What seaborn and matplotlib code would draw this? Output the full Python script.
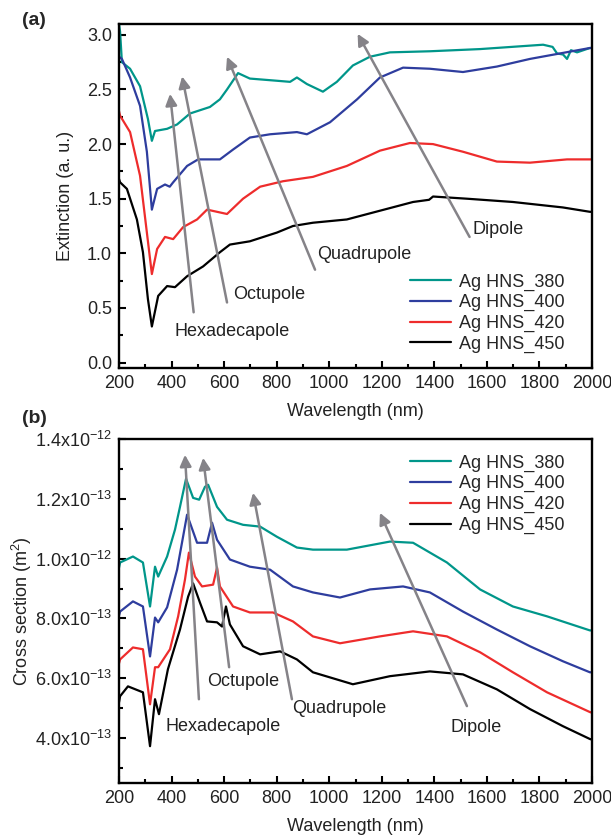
import numpy as np
import pandas as pd
import seaborn as sns
import matplotlib.pyplot as plt
from matplotlib.ticker import MultipleLocator, FixedLocator, FixedFormatter

# --- panel (a): extinction ---
SERIES = ['Ag HNS_380', 'Ag HNS_400', 'Ag HNS_420', 'Ag HNS_450']
COLORES = ['#00968a', '#2e3d9e', '#ee2c2c', '#000000']

a380_x = [200, 204, 211, 242, 280, 310, 325, 337, 383, 421, 470, 546, 584, 611, 653, 698, 801,
          851, 877, 915, 976, 1029, 1090, 1155, 1231, 1383, 1574, 1814, 1850, 1867, 1890, 1905,
          1920, 1943, 1992, 2000]
a380_y = [3.10, 3.03, 2.75, 2.69, 2.53, 2.23, 2.03, 2.12, 2.14, 2.18, 2.28, 2.34, 2.41, 2.50, 2.65,
          2.60, 2.58, 2.57, 2.61, 2.55, 2.48, 2.57, 2.72, 2.80, 2.84, 2.85, 2.87, 2.91, 2.89, 2.83,
          2.82, 2.78, 2.86, 2.84, 2.88, 2.88]
a400_x = [200, 211, 242, 280, 306, 325, 345, 375, 393, 406, 459, 501, 546, 584, 634, 698, 775,
          877, 915, 1003, 1106, 1193, 1281, 1383, 1509, 1638, 1764, 1992, 2000]
a400_y = [2.80, 2.78, 2.61, 2.35, 1.93, 1.40, 1.59, 1.63, 1.61, 1.65, 1.80, 1.86, 1.86, 1.86, 1.95,
          2.06, 2.09, 2.11, 2.09, 2.20, 2.41, 2.61, 2.70, 2.69, 2.66, 2.71, 2.78, 2.88, 2.88]
a420_x = [200, 204, 242, 280, 306, 325, 345, 375, 406, 444, 497, 535, 573, 611, 672, 737, 824,
          938, 1067, 1193, 1307, 1395, 1509, 1638, 1764, 1905, 1992, 2000]
a420_y = [2.30, 2.26, 2.11, 1.71, 1.19, 0.81, 1.04, 1.15, 1.13, 1.24, 1.31, 1.40, 1.38, 1.36, 1.50,
          1.61, 1.66, 1.70, 1.80, 1.94, 2.01, 2.00, 1.93, 1.84, 1.83, 1.86, 1.86, 1.86]
a450_x = [200, 204, 230, 268, 291, 310, 325, 349, 383, 413, 459, 520, 584, 622, 698, 801, 862,
          938, 1067, 1193, 1319, 1380, 1395, 1524, 1699, 1889, 1992, 2000]
a450_y = [1.68, 1.65, 1.59, 1.31, 1.01, 0.58, 0.33, 0.61, 0.70, 0.69, 0.79, 0.88, 1.01, 1.08, 1.11,
          1.19, 1.25, 1.28, 1.31, 1.39, 1.47, 1.49, 1.52, 1.50, 1.47, 1.42, 1.38, 1.38]

# --- panel (b): cross section, in units of 1e-12 m^2 ---
b380_x = [200, 204, 253, 291, 318, 337, 349, 383, 413, 432, 455, 482, 505, 527, 539, 573, 611,
          672, 737, 801, 877, 938, 1067, 1231, 1319, 1448, 1574, 1699, 1829, 1992, 2000]
b380_y = [0.97, 0.987, 1.007, 0.987, 0.84, 0.973, 0.94, 1.007, 1.097, 1.173, 1.267, 1.203, 1.197,
          1.24, 1.247, 1.173, 1.13, 1.113, 1.107, 1.073, 1.037, 1.03, 1.03, 1.057, 1.053, 0.987,
          0.897, 0.84, 0.807, 0.76, 0.76]
b400_x = [200, 204, 253, 291, 318, 337, 349, 383, 421, 459, 497, 535, 554, 573, 622, 698, 775,
          862, 938, 1041, 1155, 1281, 1383, 1509, 1638, 1764, 1889, 1992, 2000]
b400_y = [0.81, 0.823, 0.857, 0.84, 0.673, 0.803, 0.787, 0.837, 0.963, 1.147, 1.053, 1.053, 1.12,
          1.063, 0.997, 0.973, 0.963, 0.907, 0.887, 0.87, 0.897, 0.907, 0.887, 0.823, 0.763,
          0.707, 0.657, 0.62, 0.62]
b420_x = [200, 204, 253, 291, 318, 337, 349, 394, 425, 451, 466, 489, 516, 558, 573, 584, 634,
          698, 786, 862, 938, 1041, 1193, 1319, 1448, 1574, 1699, 1829, 1992, 2000]
b420_y = [0.65, 0.663, 0.703, 0.697, 0.513, 0.637, 0.637, 0.697, 0.807, 0.93, 1.02, 0.94, 0.907,
          0.913, 0.97, 0.907, 0.84, 0.82, 0.82, 0.79, 0.74, 0.717, 0.74, 0.757, 0.74, 0.687, 0.62,
          0.553, 0.487, 0.485]
b450_x = [200, 204, 234, 291, 318, 337, 352, 386, 432, 463, 482, 508, 535, 573, 592, 607, 622,
          672, 737, 813, 877, 938, 1090, 1231, 1383, 1509, 1638, 1764, 1889, 1992, 2000]
b450_y = [0.52, 0.54, 0.573, 0.553, 0.373, 0.53, 0.48, 0.63, 0.763, 0.873, 0.917, 0.853, 0.79,
          0.787, 0.773, 0.84, 0.78, 0.707, 0.68, 0.69, 0.663, 0.62, 0.58, 0.607, 0.623, 0.613,
          0.563, 0.497, 0.44, 0.397, 0.395]

b_ticks = [0.4, 0.6, 0.8, 1.0, 1.2, 1.4]
b_ticklabels = [r'4.0x10$^{-13}$', r'6.0x10$^{-13}$', r'8.0x10$^{-13}$',
                r'1.0x10$^{-12}$', r'1.2x10$^{-13}$', r'1.4x10$^{-12}$']

# arrows: (label, head, tail, text position)
flechas_a = [('Hexadecapole', (394, 2.46), (484, 0.46), (413, 0.28)),
             ('Octupole', (440, 2.62), (611, 0.55), (634, 0.62)),
             ('Quadrupole', (611, 2.80), (946, 0.85), (953, 0.99)),
             ('Dipole', (1108, 3.01), (1534, 1.15), (1547, 1.22))]
flechas_b = [('Hexadecapole', (451, 1.347), (504, 0.53), (375, 0.44)),
             ('Octupole', (520, 1.337), (619, 0.637), (535, 0.59)),
             ('Quadrupole', (710, 1.22), (858, 0.53), (858, 0.50)),
             ('Dipole', (1193, 1.153), (1524, 0.507), (1460, 0.437))]

FS = 13


def tabla(xs, ys):
    partes = []
    for nombre, x, y in zip(SERIES, xs, ys):
        partes.append(pd.DataFrame({'wl': x, 'val': y, 'serie': nombre}))
    return pd.concat(partes, ignore_index=True)


def dibujar(ax, df, flechas, leg_anchor):
    sns.lineplot(data=df, x='wl', y='val', hue='serie', hue_order=SERIES,
                 palette=dict(zip(SERIES, COLORES)), estimator=None, sort=False,
                 lw=1.6, ax=ax)
    for texto, head, tail, pos in flechas:
        ax.annotate('', xy=head, xytext=tail,
                    arrowprops=dict(arrowstyle='-|>', color='#858388', lw=1.8,
                                    mutation_scale=17, shrinkA=0, shrinkB=0))
        ax.text(pos[0], pos[1], texto, fontsize=FS, ha='left', va='center', color='#222222')
    ax.set_xlim(200, 2000)
    ax.xaxis.set_major_locator(MultipleLocator(200))
    ax.xaxis.set_minor_locator(MultipleLocator(100))
    ax.tick_params(which='both', direction='in', top=False, right=False, labelsize=FS,
                   width=1.5, pad=5, color='black', labelcolor='#222222')
    ax.tick_params(which='major', length=5)
    ax.tick_params(which='minor', length=3)
    for s in ax.spines.values():
        s.set_linewidth(1.7)
        s.set_color('black')
    ax.set_xlabel('Wavelength (nm)', fontsize=FS, labelpad=8, color='#222222')
    ax.legend(title=None, frameon=False, loc='upper left', bbox_to_anchor=leg_anchor,
              borderaxespad=0, borderpad=0, fontsize=FS, handlelength=2.3,
              labelspacing=0.2, handletextpad=0.4)


sns.set_style('ticks')
plt.rcParams['font.family'] = ['Liberation Sans', 'DejaVu Sans']
plt.rcParams['mathtext.fontset'] = 'custom'
plt.rcParams['mathtext.rm'] = 'Liberation Sans'

fig = plt.figure(figsize=(6.11, 8.35), dpi=100)
ax1 = fig.add_axes([0.1948, 0.5593, 0.7741, 0.4120])
ax2 = fig.add_axes([0.1948, 0.0623, 0.7741, 0.4120])

dibujar(ax1, tabla([a380_x, a400_x, a420_x, a450_x], [a380_y, a400_y, a420_y, a450_y]),
        flechas_a, (0.615, 0.275))
ax1.set_ylim(-0.05, 3.1)
ax1.yaxis.set_major_locator(MultipleLocator(0.5))
ax1.yaxis.set_minor_locator(MultipleLocator(0.25))
ax1.yaxis.set_major_formatter(plt.FormatStrFormatter('%.1f'))
ax1.set_ylabel('Extinction (a. u.)', fontsize=FS, labelpad=9, color='#222222')

dibujar(ax2, tabla([b380_x, b400_x, b420_x, b450_x], [b380_y, b400_y, b420_y, b450_y]),
        flechas_b, (0.615, 0.955))
ax2.set_ylim(0.25, 1.4)
ax2.yaxis.set_major_locator(FixedLocator(b_ticks))
ax2.yaxis.set_major_formatter(FixedFormatter(b_ticklabels))
ax2.yaxis.set_minor_locator(MultipleLocator(0.1))
ax2.set_ylabel(r'Cross section (m$^2$)', fontsize=FS, labelpad=1, color='#222222')

fig.text(0.036, 0.976, '(a)', fontsize=14, fontweight='bold', va='center')
fig.text(0.036, 0.499, '(b)', fontsize=14, fontweight='bold', va='center')

fig.savefig('out.png', dpi=100)
